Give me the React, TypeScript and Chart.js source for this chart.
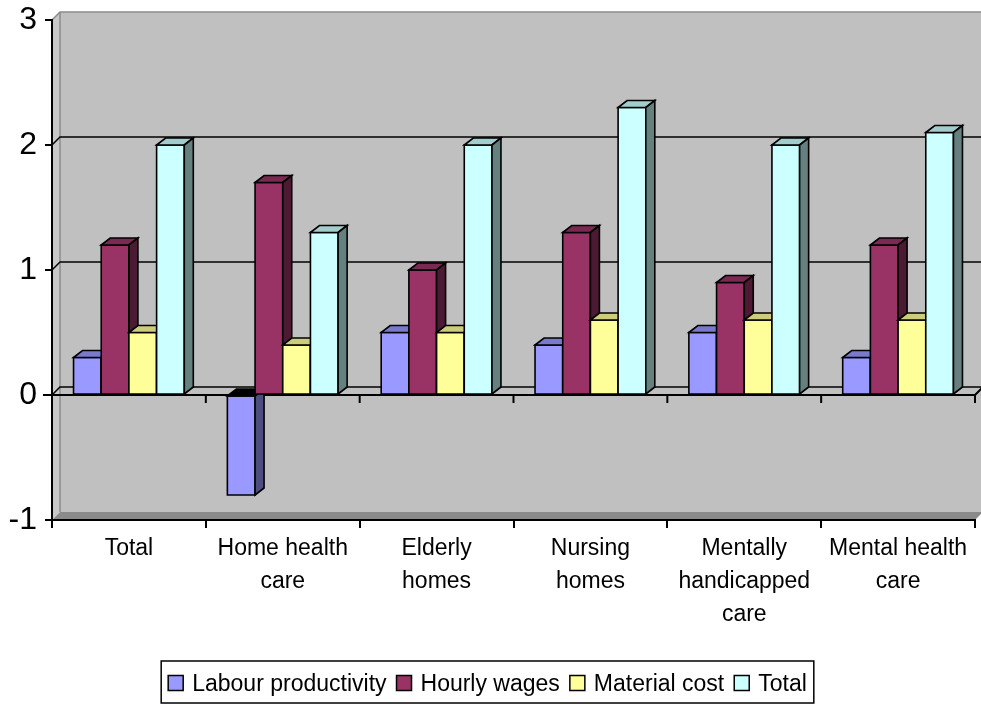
import React, { useEffect, useRef } from 'react';
import { Chart, registerables } from 'chart.js';

Chart.register(...registerables);

// ---- data ----
const categories: string[][] = [
  ['Total'],
  ['Home health', 'care'],
  ['Elderly', 'homes'],
  ['Nursing', 'homes'],
  ['Mentally', 'handicapped', 'care'],
  ['Mental health', 'care'],
];
const seriesNames = ['Labour productivity', 'Hourly wages', 'Material cost', 'Total'];
const labourProductivity = [0.3, -0.8, 0.5, 0.4, 0.5, 0.3];
const hourlyWages = [1.2, 1.7, 1.0, 1.3, 0.9, 1.2];
const materialCost = [0.5, 0.4, 0.5, 0.6, 0.6, 0.6];
const totalChange = [2.0, 1.3, 2.0, 2.3, 2.0, 2.1];
const valueTicks = [-1, 0, 1, 2, 3];

// ---- styling ----
const FONT = "'Liberation Sans', Arial, sans-serif";
const frontColors = ['#9999FF', '#993366', '#FFFF99', '#CCFFFF'];
const topColors = ['#7A7ACC', '#7A2952', '#CCCC7A', '#A3CCCC'];
const sideColors = ['#4D4D80', '#4D1A33', '#80804D', '#668080'];

const WALL_DX = 8;
const WALL_DY = 8;
const BAR_DX = 9;
const BAR_DY = 7;

function poly(ctx: CanvasRenderingContext2D, pts: number[][], fill: string) {
  ctx.beginPath();
  ctx.moveTo(pts[0][0], pts[0][1]);
  for (let i = 1; i < pts.length; i++) ctx.lineTo(pts[i][0], pts[i][1]);
  ctx.closePath();
  ctx.fillStyle = fill;
  ctx.fill();
  ctx.stroke();
}

const chart3dPlugin = {
  id: 'chart3d',
  beforeDraw(chart: any) {
    const { ctx, chartArea: a } = chart;
    const y = chart.scales.y;
    ctx.save();
    // back wall
    ctx.fillStyle = '#c0c0c0';
    ctx.fillRect(a.left + WALL_DX, a.top - WALL_DY, a.right - a.left, a.bottom - a.top);
    // left side wall
    ctx.beginPath();
    ctx.moveTo(a.left, a.top);
    ctx.lineTo(a.left + WALL_DX, a.top - WALL_DY);
    ctx.lineTo(a.left + WALL_DX, a.bottom - WALL_DY);
    ctx.lineTo(a.left, a.bottom);
    ctx.closePath();
    ctx.fillStyle = '#c8c8c8';
    ctx.fill();
    // floor slab
    ctx.beginPath();
    ctx.moveTo(a.left, a.bottom);
    ctx.lineTo(a.left + WALL_DX, a.bottom - WALL_DY);
    ctx.lineTo(a.right + WALL_DX, a.bottom - WALL_DY);
    ctx.lineTo(a.right, a.bottom);
    ctx.closePath();
    ctx.fillStyle = '#8a8a8a';
    ctx.fill();
    // wall edges
    ctx.strokeStyle = '#8c8c8c';
    ctx.lineWidth = 1.5;
    ctx.beginPath();
    ctx.moveTo(a.left, a.top);
    ctx.lineTo(a.left + WALL_DX, a.top - WALL_DY);
    ctx.lineTo(a.right + WALL_DX, a.top - WALL_DY);
    ctx.moveTo(a.left + WALL_DX, a.top - WALL_DY);
    ctx.lineTo(a.left + WALL_DX, a.bottom - WALL_DY);
    ctx.stroke();
    // grid lines on the back wall (and the back edge of the zero plane)
    ctx.strokeStyle = '#000';
    ctx.lineWidth = 1.5;
    for (const v of valueTicks) {
      if (v <= y.min || v >= y.max) continue;
      const py = y.getPixelForValue(v);
      ctx.beginPath();
      ctx.moveTo(a.left, py);
      ctx.lineTo(a.left + WALL_DX, py - WALL_DY);
      ctx.lineTo(a.right + WALL_DX, py - WALL_DY);
      ctx.stroke();
    }
    ctx.restore();
  },
  beforeDatasetsDraw(chart: any) {
    const { ctx, chartArea: a } = chart;
    const x = chart.scales.x;
    const y = chart.scales.y;
    const n = chart.data.labels.length;
    const y0 = y.getPixelForValue(0);
    ctx.save();
    // category axis along the zero plane
    ctx.strokeStyle = '#000';
    ctx.lineWidth = 2;
    ctx.beginPath();
    ctx.moveTo(a.left - 9, y0);
    ctx.lineTo(a.right, y0);
    ctx.moveTo(a.right, y0);
    ctx.lineTo(a.right + WALL_DX, y0 - WALL_DY);
    for (let i = 0; i <= n; i++) {
      const px = x.getPixelForValue(i - 0.5);
      ctx.moveTo(px, y0);
      ctx.lineTo(px, y0 + 8);
    }
    ctx.stroke();

    // 3D columns, left to right inside every category
    ctx.lineWidth = 1.6;
    ctx.lineJoin = 'miter';
    ctx.strokeStyle = '#000';
    const metas = chart.data.datasets.map((_: any, i: number) => chart.getDatasetMeta(i));
    for (let j = 0; j < n; j++) {
      for (let d = 0; d < metas.length; d++) {
        const el = metas[d].data[j];
        if (!el) continue;
        const { x: cx, y: vy, base, width } = el;
        const L = cx - width / 2;
        const R = cx + width / 2;
        const top = Math.min(vy, base);
        const bot = Math.max(vy, base);
        const neg = vy > base;
        poly(ctx, [[L, top], [R, top], [R, bot], [L, bot]], frontColors[d]);
        poly(ctx, [[L, top], [L + BAR_DX, top - BAR_DY], [R + BAR_DX, top - BAR_DY], [R, top]], neg ? '#000' : topColors[d]);
        poly(ctx, [[R, top], [R + BAR_DX, top - BAR_DY], [R + BAR_DX, bot - BAR_DY], [R, bot]], sideColors[d]);
      }
    }
    ctx.restore();
    return false;
  },
  afterDraw(chart: any) {
    const { ctx } = chart;
    const datasets = chart.data.datasets;
    ctx.save();
    ctx.font = `23px ${FONT}`;
    const box = 15;
    const gapIn = 9;
    const gapOut = 10;
    const widths = datasets.map((ds: any) => ctx.measureText(ds.label).width);
    const total = widths.reduce((s: number, w: number) => s + box + gapIn + w, 0) + gapOut * (datasets.length - 1);
    const cx = chart.width / 2 - 3;
    let px = cx - total / 2;
    const frameTop = 661;
    const frameH = 42;
    const baseline = 691;
    ctx.strokeStyle = '#000';
    ctx.lineWidth = 1.5;
    ctx.strokeRect(px - 7, frameTop, total + 14, frameH);
    ctx.textBaseline = 'alphabetic';
    ctx.textAlign = 'left';
    datasets.forEach((ds: any, i: number) => {
      const by = baseline - 8 - box / 2;
      ctx.fillStyle = ds.backgroundColor;
      ctx.fillRect(px, by, box, box);
      ctx.strokeRect(px, by, box, box);
      ctx.fillStyle = '#000';
      ctx.fillText(ds.label, px + box + gapIn, baseline);
      px += box + gapIn + widths[i] + gapOut;
    });
    ctx.restore();
  },
};

export default function App() {
  const canvasRef = useRef<HTMLCanvasElement>(null);

  useEffect(() => {
    const canvas = canvasRef.current;
    if (!canvas) return;
    const seriesValues = [labourProductivity, hourlyWages, materialCost, totalChange];
    const chart = new Chart(canvas, {
      type: 'bar',
      data: {
        labels: categories,
        datasets: seriesNames.map((name, i) => ({
          label: name,
          data: seriesValues[i],
          backgroundColor: frontColors[i],
          borderColor: '#000',
          borderWidth: 1.5,
          categoryPercentage: 0.72,
          barPercentage: 1,
        })),
      },
      options: {
        responsive: false,
        animation: false,
        events: [],
        layout: { padding: { top: 20, right: 6, bottom: 66, left: 0 } },
        plugins: {
          legend: { display: false },
          tooltip: { enabled: false },
        },
        scales: {
          x: {
            type: 'category',
            offset: true,
            afterFit: (scale: any) => {
              scale.height = 120;
              scale.paddingLeft = 0;
              scale.paddingRight = 0;
            },
            grid: {
              offset: true,
              drawOnChartArea: false,
              drawTicks: true,
              tickLength: 8,
              color: '#000',
              lineWidth: 2,
            },
            border: { display: true, color: '#000', width: 2 },
            ticks: {
              color: '#000',
              autoSkip: false,
              maxRotation: 0,
              minRotation: 0,
              padding: 4,
              font: { family: FONT, size: 23, lineHeight: 33 / 23 },
            },
          },
          y: {
            min: -1,
            max: 3,
            afterFit: (scale: any) => {
              scale.width = 52;
              scale.paddingTop = 0;
              scale.paddingBottom = 0;
            },
            afterBuildTicks: (scale: any) => {
              scale.ticks = valueTicks.map((v) => ({ value: v }));
            },
            grid: {
              drawOnChartArea: false,
              drawTicks: true,
              tickLength: 7,
              color: '#000',
              lineWidth: 2,
            },
            border: { display: true, color: '#000', width: 2 },
            ticks: {
              color: '#000',
              padding: 8,
              font: { family: FONT, size: 32 },
            },
          },
        },
      },
      plugins: [chart3dPlugin],
    } as any);
    return () => chart.destroy();
  }, []);

  return (
    <div style={{ position: 'fixed', left: 0, top: 0, width: 981, height: 706, background: '#fff' }}>
      <canvas ref={canvasRef} width={981} height={706} style={{ display: 'block' }} />
    </div>
  );
}
